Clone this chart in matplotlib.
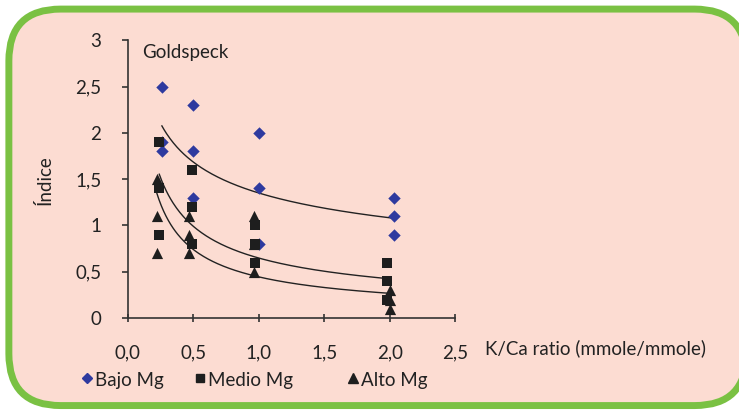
import numpy as np
import matplotlib
matplotlib.use("Agg")
import matplotlib.pyplot as plt
from matplotlib.patches import FancyBboxPatch

# data (K/Ca ratio vs index, Goldspeck)
bajo_x = [0.26, 0.26, 0.26, 0.50, 0.50, 0.50, 1.00, 1.00, 1.00, 2.03, 2.03, 2.03]
bajo_y = [2.5, 1.9, 1.8, 2.3, 1.8, 1.3, 2.0, 1.4, 0.8, 1.3, 1.1, 0.9]

medio_x = [0.24, 0.24, 0.24, 0.49, 0.49, 0.49, 0.97, 0.97, 0.97, 1.98, 1.98, 1.98]
medio_y = [1.9, 1.4, 0.9, 1.6, 1.2, 0.8, 1.0, 0.8, 0.6, 0.6, 0.4, 0.2]

alto_x = [0.22, 0.22, 0.22, 0.47, 0.47, 0.47, 0.96, 0.96, 0.96, 2.00, 2.00, 2.00]
alto_y = [1.5, 1.1, 0.7, 1.1, 0.9, 0.7, 1.1, 0.8, 0.5, 0.3, 0.2, 0.1]

xticks = [0.0, 0.5, 1.0, 1.5, 2.0, 2.5]
yticks = [0, 0.5, 1, 1.5, 2, 2.5, 3]

plt.rcParams['font.family'] = ['Lato', 'DejaVu Sans']

bg = '#fcdcd2'
fs = 13.5
fig = plt.figure(figsize=(7.39, 4.13), dpi=100)
fig.patch.set_facecolor('white')

# rounded green frame (runs off the right edge like the original)
box = FancyBboxPatch((0.012, 0.018), 0.998, 0.960, boxstyle="round,pad=0,rounding_size=0.07",
                     transform=fig.transFigure, facecolor=bg, edgecolor='#7ac143',
                     linewidth=5, mutation_aspect=739/413, zorder=-5)
fig.patches.append(box)

ax = fig.add_axes([0.173, 0.230, 0.443, 0.672])
ax.set_facecolor('none')

ax.scatter(bajo_x, bajo_y, marker='D', s=40, color='#2e3a9f', zorder=3, linewidths=0)
ax.scatter(medio_x, medio_y, marker='s', s=45, color='#1e1e1e', zorder=3, linewidths=0)
ax.scatter(alto_x, alto_y, marker='^', s=65, color='#1e1e1e', zorder=3, linewidths=0)

# power trend lines (least squares in log-log)
for xs, ys in [(bajo_x, bajo_y), (medio_x, medio_y), (alto_x, alto_y)]:
    b, lna = np.polyfit(np.log(xs), np.log(ys), 1)
    xx = np.linspace(min(xs), max(xs), 200)
    ax.plot(xx, np.exp(lna) * xx ** b, color='#222222', lw=1.0, zorder=2)

ax.set_xlim(0, 2.5)
ax.set_ylim(0, 3)
ax.set_xticks(xticks)
ax.set_yticks(yticks)
ax.set_xticklabels([f"{t:.1f}".replace('.', ',') for t in xticks])
ax.set_yticklabels([f"{t:g}".replace('.', ',') for t in yticks])
for s in ['top', 'right']:
    ax.spines[s].set_visible(False)
for s in ['left', 'bottom']:
    ax.spines[s].set_color('#333333')
    ax.spines[s].set_linewidth(1.2)
ax.tick_params(axis='y', direction='out', length=4, width=1.2, color='#333333',
               pad=15, labelsize=fs, labelcolor='#222222')
ax.tick_params(axis='x', direction='inout', length=6, width=1.2, color='#333333',
               pad=16, labelsize=fs, labelcolor='#222222')

ax.text(0.045, 0.955, 'Goldspeck', transform=ax.transAxes, fontsize=fs, color='#222222',
        va='center', ha='left')
fig.text(0.061, 0.565, 'Índice', rotation=90, fontsize=fs, color='#222222', ha='center', va='center')
fig.text(0.656, 0.157, 'K/Ca ratio (mmole/mmole)', fontsize=fs, color='#222222', ha='left', va='center')

# legend row
lx = [0.118, 0.271, 0.477]
ly = 0.079
labels = ['Bajo Mg', 'Medio Mg', 'Alto Mg']
markers = [('D', '#2e3a9f', 5), ('s', '#1e1e1e', 5.5), ('^', '#1e1e1e', 6.5)]
for x0, lab, (m, c, ms) in zip(lx, labels, markers):
    fig.add_artist(plt.Line2D([x0], [ly + 0.005], marker=m, color=c, markersize=ms,
                              linestyle='none', transform=fig.transFigure))
    fig.text(x0 + 0.011, ly, lab, fontsize=fs, color='#222222', ha='left', va='center')

fig.savefig('out.png', dpi=100, facecolor=fig.get_facecolor())
